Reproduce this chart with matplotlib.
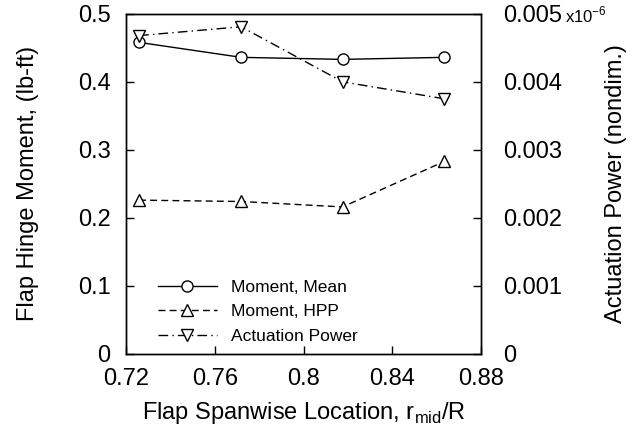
import matplotlib
matplotlib.use("Agg")
import matplotlib.pyplot as plt

plt.rcParams['font.family'] = ['Liberation Sans', 'DejaVu Sans']
plt.rcParams['mathtext.fontset'] = 'custom'
plt.rcParams['mathtext.rm'] = 'Liberation Sans'

# data
r_mid = [0.7259, 0.7719, 0.8176, 0.8635]
moment_mean = [0.458, 0.436, 0.433, 0.436]
moment_hpp = [0.226, 0.224, 0.216, 0.283]
act_power = [0.00468, 0.00481, 0.00400, 0.00375]

xticks = [0.72, 0.76, 0.80, 0.84, 0.88]
xticklabels = ['0.72', '0.76', '0.8', '0.84', '0.88']
yticks = [0, 0.1, 0.2, 0.3, 0.4, 0.5]
yticklabels = ['0', '0.1', '0.2', '0.3', '0.4', '0.5']
y2ticks = [0, 0.001, 0.002, 0.003, 0.004, 0.005]
y2ticklabels = ['0', '0.001', '0.002', '0.003', '0.004', '0.005']

fig = plt.figure(figsize=(6.33, 4.32), dpi=100)
ax1 = fig.add_axes([0.199, 0.181, 0.561, 0.787])
ax2 = ax1.twinx()

mk = dict(markersize=8, markerfacecolor='white', markeredgecolor='black', markeredgewidth=1.0)
l1, = ax1.plot(r_mid, moment_mean, 'k-', marker='o', lw=1.0, label='Moment, Mean', **mk)
l2, = ax1.plot(r_mid, moment_hpp, 'k', linestyle=(0, (5, 3)), marker='^', lw=1.0,
               label='Moment, HPP', **mk)
l3, = ax2.plot(r_mid, act_power, 'k', linestyle=(0, (7, 3, 1, 3)), marker='v', lw=1.0,
               label='Actuation Power', **mk)

ax1.set_xlim(0.72, 0.88)
ax1.set_ylim(0, 0.5)
ax2.set_ylim(0, 0.005)
ax1.set_xticks(xticks)
ax1.set_xticklabels(xticklabels)
ax1.set_yticks(yticks)
ax1.set_yticklabels(yticklabels)
ax2.set_yticks(y2ticks)
ax2.set_yticklabels(y2ticklabels)

ax1.tick_params(direction='in', length=6, width=1, labelsize=17)
ax1.tick_params(axis='x', pad=10)
ax1.tick_params(axis='y', pad=11)
ax2.tick_params(direction='in', length=6, width=1, labelsize=17, pad=16)
for ax in (ax1, ax2):
    for s in ax.spines.values():
        s.set_linewidth(1.0)

ax1.set_xlabel('Flap Spanwise Location, r$_{\\mathrm{mid}}$/R', fontsize=17)
ax1.set_ylabel('Flap Hinge Moment, (lb-ft)', fontsize=17)
ax2.set_ylabel('Actuation Power (nondim.)', fontsize=17)
ax1.xaxis.set_label_coords(0.5, -0.135)
ax1.yaxis.set_label_coords(-0.245, 0.5)
ax2.yaxis.set_label_coords(1.35, 0.5)

fig.text(0.893, 0.966, 'x10$^{\\mathrm{-6}}$', fontsize=12, va='center')

ax1.legend(handles=[l1, l2, l3], loc='lower left', bbox_to_anchor=(0.09, 0.03),
           borderaxespad=0, borderpad=0, frameon=False, fontsize=12.5,
           handlelength=3.4, handletextpad=0.8, labelspacing=0.52)

fig.savefig('out.png', dpi=100)
